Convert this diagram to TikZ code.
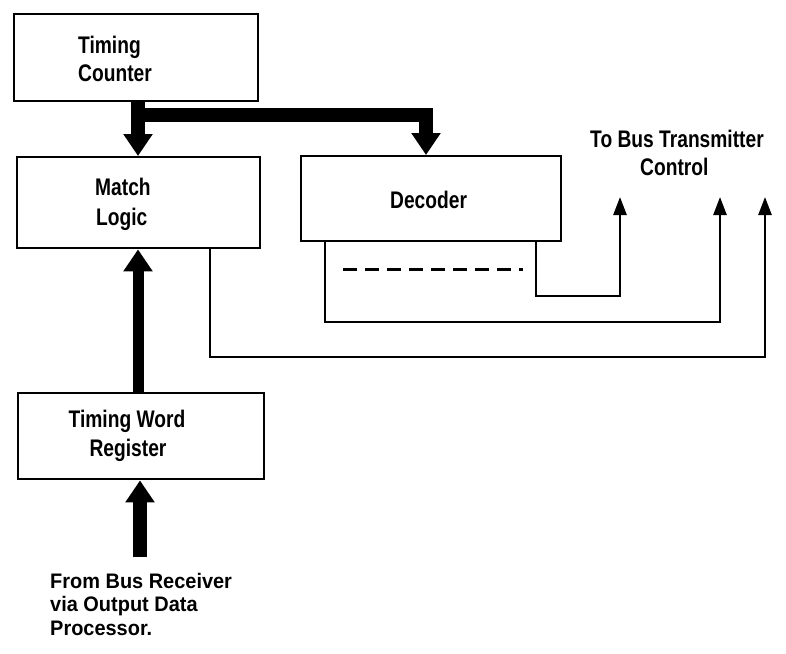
\documentclass[tikz,border=0pt]{standalone}
\usepackage{fontspec}
\setmainfont{Liberation Sans}[FakeStretch=0.8]
\newfontfamily\widefont{Liberation Sans}[FakeStretch=0.95]
\usetikzlibrary{arrows.meta}
\begin{document}
\begin{tikzpicture}[x=1pt,y=-1pt,
  box/.style={draw,line width=2.4pt,anchor=north west,inner sep=0pt},
  lbl/.style={inner sep=0pt,font=\fontsize{24}{28}\selectfont\bfseries},
  srclbl/.style={inner sep=0pt,font=\widefont\fontsize{21}{24}\selectfont\bfseries},
  busline/.style={line width=14pt,line join=miter},
  bigtip/.style={-{Triangle[width=28pt,length=22pt]}},
  wire/.style={line width=2.6pt,line join=miter},
  smalltip/.style={-{Triangle[width=13pt,length=18pt]}},
]
\useasboundingbox (0,0) rectangle (786,653);
% boxes
\node[box,minimum width=244pt,minimum height=87pt] (tc) at (13,13) {};
\node[box,minimum width=243pt,minimum height=91pt] (ml) at (16,156) {};
\node[box,minimum width=260pt,minimum height=85pt] (dec) at (300,155) {};
\node[box,minimum width=246pt,minimum height=86pt] (twr) at (17,392) {};
% labels
\node[lbl,anchor=base west] (tc1) at (78,53) {Timing};
\node[lbl,anchor=base west] (tc2) at (78,81) {Counter};
\node[lbl,anchor=base west] (ml1) at (95,195) {Match};
\node[lbl,anchor=base west] (ml2) at (96,225) {Logic};
\node[lbl,anchor=base west] (dec1) at (390,208) {Decoder};
\node[lbl,anchor=base] (tw1) at (127,427) {Timing Word};
\node[lbl,anchor=base] (tw2) at (128,456) {Register};
\node[lbl,anchor=base west] (to1) at (590,147) {To Bus Transmitter};
\node[lbl,anchor=base west] (to2) at (640,175) {Control};
\node[srclbl,anchor=base west] (fr1) at (50,588) {From Bus Receiver};
\node[srclbl,anchor=base west] (fr2) at (50,611) {via Output Data};
\node[srclbl,anchor=base west] (fr3) at (50,635) {Processor.};
% coordinates
\coordinate (b1) at (138,115);
\coordinate (b2) at (426,115);
\coordinate (src) at (140,557);
\coordinate (w1) at (210,357);
\coordinate (w1e) at (765,357);
\coordinate (t1) at (765,197);
\coordinate (w2) at (325,322);
\coordinate (w2e) at (720,322);
\coordinate (t2) at (720,197);
\coordinate (w3) at (536,296);
\coordinate (w3e) at (620,296);
\coordinate (t3) at (620,197);
\coordinate (d1) at (343,269);
\coordinate (d2) at (523,269);
% bus
\draw[busline,bigtip] (tc.south -| b1) -- (ml.north -| b1);
\draw[busline,bigtip] (b1) -- (b2) -- (dec.north -| b2);
\draw[line width=11pt,bigtip] (twr.north -| b1) -- (ml.south -| b1);
\draw[line width=14pt,bigtip] (src) -- (twr.south -| src);
% wires
\draw[wire,smalltip] (ml.south -| w1) -- (w1) -- (w1e) -- (t1);
\draw[wire,smalltip] (dec.south -| w2) -- (w2) -- (w2e) -- (t2);
\draw[wire,smalltip] (dec.south -| w3) -- (w3) -- (w3e) -- (t3);
\draw[line width=3pt,dash pattern=on 14pt off 8pt] (d1) -- (d2);
\end{tikzpicture}
\end{document}
